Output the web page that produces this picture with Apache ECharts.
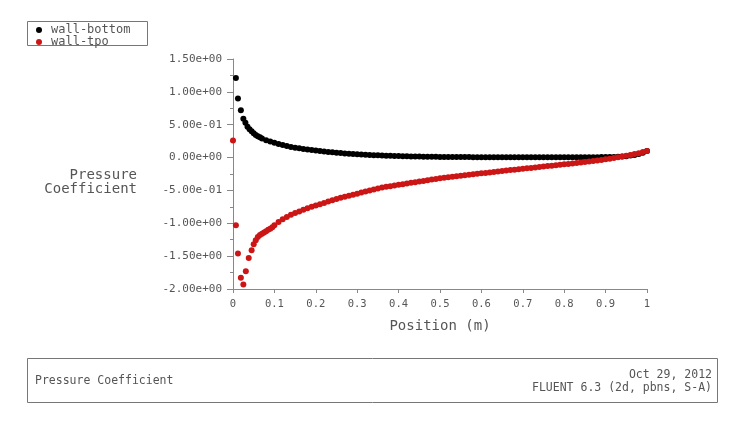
<!DOCTYPE html>
<html><head><meta charset="utf-8">
<script src="https://cdn.jsdelivr.net/npm/echarts@6/dist/echarts.min.js"></script>
<style>html,body{margin:0;padding:0;background:#fff}#c{width:729px;height:428px}</style>
</head><body><div id="c"></div>
<script>
var seriesNames = ['wall-bottom', 'wall-tpo'];
var xTicks = [0, 0.1, 0.2, 0.3, 0.4, 0.5, 0.6, 0.7, 0.8, 0.9, 1];
var xTickLabels = ['0', '0.1', '0.2', '0.3', '0.4', '0.5', '0.6', '0.7', '0.8', '0.9', '1'];
var yTicks = [1.5, 1.0, 0.5, 0, -0.5, -1.0, -1.5, -2.0];
var yTickLabels = ['1.50e+00', '1.00e+00', '5.00e-01', '0.00e+00', '-5.00e-01', '-1.00e+00', '-1.50e+00', '-2.00e+00'];

var bottomX = [0.007,0.012,0.019,0.025,0.03,0.035,0.04,0.045,0.05,0.055,0.06,0.065,0.07,0.08,0.09,0.10,0.11,0.12,0.13,0.14,0.15,0.16,0.17,0.18,0.19,0.20,0.21,0.22,0.23,0.24,0.25,0.26,0.27,0.28,0.29,0.30,0.31,0.32,0.33,0.34,0.35,0.36,0.37,0.38,0.39,0.40,0.41,0.42,0.43,0.44,0.45,0.46,0.47,0.48,0.49,0.50,0.51,0.52,0.53,0.54,0.55,0.56,0.57,0.58,0.59,0.60,0.61,0.62,0.63,0.64,0.65,0.66,0.67,0.68,0.69,0.70,0.71,0.72,0.73,0.74,0.75,0.76,0.77,0.78,0.79,0.80,0.81,0.82,0.83,0.84,0.85,0.86,0.87,0.88,0.89,0.90,0.91,0.92,0.93,0.94,0.95,0.96,0.97,0.98,0.99,1.00];
var bottomY = [1.21,0.90,0.72,0.59,0.53,0.47,0.43,0.40,0.37,0.345,0.325,0.31,0.29,0.265,0.245,0.225,0.208,0.19,0.175,0.162,0.15,0.14,0.13,0.122,0.114,0.106,0.099,0.092,0.086,0.08,0.074,0.068,0.063,0.058,0.054,0.05,0.046,0.043,0.04,0.037,0.034,0.031,0.029,0.027,0.025,0.023,0.021,0.019,0.018,0.016,0.015,0.014,0.013,0.012,0.011,0.01,0.009,0.009,0.008,0.008,0.007,0.007,0.007,0.006,0.006,0.006,0.006,0.005,0.005,0.005,0.005,0.005,0.005,0.005,0.005,0.005,0.005,0.005,0.005,0.005,0.005,0.005,0.005,0.005,0.005,0.005,0.005,0.005,0.005,0.005,0.005,0.006,0.006,0.006,0.007,0.007,0.008,0.01,0.013,0.017,0.022,0.03,0.04,0.055,0.075,0.10];

var topX = [0.0,0.007,0.012,0.019,0.025,0.031,0.038,0.045,0.05,0.055,0.06,0.065,0.07,0.075,0.08,0.085,0.09,0.095,0.10,0.11,0.12,0.13,0.14,0.15,0.16,0.17,0.18,0.19,0.20,0.21,0.22,0.23,0.24,0.25,0.26,0.27,0.28,0.29,0.30,0.31,0.32,0.33,0.34,0.35,0.36,0.37,0.38,0.39,0.40,0.41,0.42,0.43,0.44,0.45,0.46,0.47,0.48,0.49,0.50,0.51,0.52,0.53,0.54,0.55,0.56,0.57,0.58,0.59,0.60,0.61,0.62,0.63,0.64,0.65,0.66,0.67,0.68,0.69,0.70,0.71,0.72,0.73,0.74,0.75,0.76,0.77,0.78,0.79,0.80,0.81,0.82,0.83,0.84,0.85,0.86,0.87,0.88,0.89,0.90,0.91,0.92,0.93,0.94,0.95,0.96,0.97,0.98,0.99,1.00];
var topY = [0.26,-1.03,-1.46,-1.83,-1.93,-1.73,-1.53,-1.41,-1.32,-1.26,-1.21,-1.18,-1.16,-1.14,-1.12,-1.10,-1.085,-1.06,-1.03,-0.98,-0.94,-0.905,-0.87,-0.845,-0.82,-0.795,-0.77,-0.75,-0.73,-0.71,-0.69,-0.67,-0.65,-0.63,-0.61,-0.595,-0.58,-0.565,-0.55,-0.53,-0.515,-0.50,-0.485,-0.47,-0.455,-0.445,-0.435,-0.425,-0.415,-0.405,-0.395,-0.385,-0.375,-0.365,-0.355,-0.345,-0.335,-0.325,-0.315,-0.307,-0.30,-0.292,-0.285,-0.277,-0.27,-0.262,-0.255,-0.247,-0.24,-0.233,-0.226,-0.219,-0.212,-0.205,-0.198,-0.191,-0.184,-0.177,-0.17,-0.163,-0.157,-0.15,-0.144,-0.137,-0.13,-0.124,-0.117,-0.11,-0.103,-0.096,-0.089,-0.082,-0.075,-0.068,-0.06,-0.052,-0.044,-0.036,-0.027,-0.018,-0.008,0.003,0.015,0.027,0.04,0.053,0.067,0.083,0.10];

function pairs(xs, ys) { return xs.map(function (x, i) { return [x, ys[i]]; }); }
function lookup(ticks, labels, v) {
  for (var i = 0; i < ticks.length; i++) if (Math.abs(ticks[i] - v) < 1e-9) return labels[i];
  return '';
}

var mono = 'DejaVu Sans Mono';
var txt = '#555';
function label(x, y, s, size, align) {
  return { type: 'text', x: x, y: y, style: { text: s, fontFamily: mono, fontSize: size, fill: txt, align: align || 'left', verticalAlign: 'middle' } };
}
var chart = echarts.init(document.getElementById('c'), null, { renderer: 'canvas' });
chart.setOption({
  animation: false,
  backgroundColor: '#fff',
  grid: { left: 233, right: 82, top: 59, bottom: 139, containLabel: false },
  legend: {
    orient: 'vertical', left: 36, top: 24, itemWidth: 6, itemHeight: 6, itemGap: 0,
    icon: 'circle', padding: 0,
    textStyle: { fontFamily: mono, fontSize: 12, color: txt, lineHeight: 10, padding: [0, 0, 0, 4] },
    data: seriesNames
  },
  xAxis: {
    type: 'value', min: 0, max: 1, interval: 0.1,
    name: 'Position (m)', nameLocation: 'middle', nameGap: 30,
    nameTextStyle: { fontFamily: mono, fontSize: 14, color: txt },
    axisLine: { onZero: false, lineStyle: { color: '#888', width: 1 } },
    axisTick: { length: 4, lineStyle: { color: '#888' } },
    axisLabel: { fontFamily: mono, fontSize: 10.5, color: txt, margin: 10,
      formatter: function (v) { return lookup(xTicks, xTickLabels, v); } },
    splitLine: { show: false }
  },
  yAxis: {
    type: 'value', min: -2, max: 1.5, interval: 0.5,
    axisLine: { show: true, onZero: false, lineStyle: { color: '#888', width: 1 } },
    axisTick: { show: true, length: 6, lineStyle: { color: '#888' } },
    minorTick: { show: true, splitNumber: 2, length: 3, lineStyle: { color: '#888' } },
    axisLabel: { fontFamily: mono, fontSize: 11, color: txt, margin: 11,
      formatter: function (v) { return lookup(yTicks, yTickLabels, v); } },
    splitLine: { show: false }
  },
  graphic: [
    { type: 'rect', shape: { x: 27.5, y: 21.5, width: 120, height: 24 }, style: { fill: 'none', stroke: '#777', lineWidth: 1 } },
    label(137, 175, 'Pressure', 14, 'right'),
    label(137, 189, 'Coefficient', 14, 'right'),
    { type: 'rect', shape: { x: 27.5, y: 358.5, width: 690, height: 44 }, style: { fill: 'none', stroke: '#777', lineWidth: 1 } },
    label(35, 381, 'Pressure Coefficient', 11.5, 'left'),
    label(712, 375, 'Oct 29, 2012', 11.5, 'right'),
    label(712, 388, 'FLUENT 6.3 (2d, pbns, S-A)', 11.5, 'right')
  ],
  series: [
    { name: seriesNames[0], type: 'scatter', symbol: 'circle', symbolSize: 6, itemStyle: { color: '#000', opacity: 1 }, data: pairs(bottomX, bottomY) },
    { name: seriesNames[1], type: 'scatter', symbol: 'circle', symbolSize: 6, itemStyle: { color: '#cc1616', opacity: 1 }, data: pairs(topX, topY) }
  ]
});
</script></body></html>
